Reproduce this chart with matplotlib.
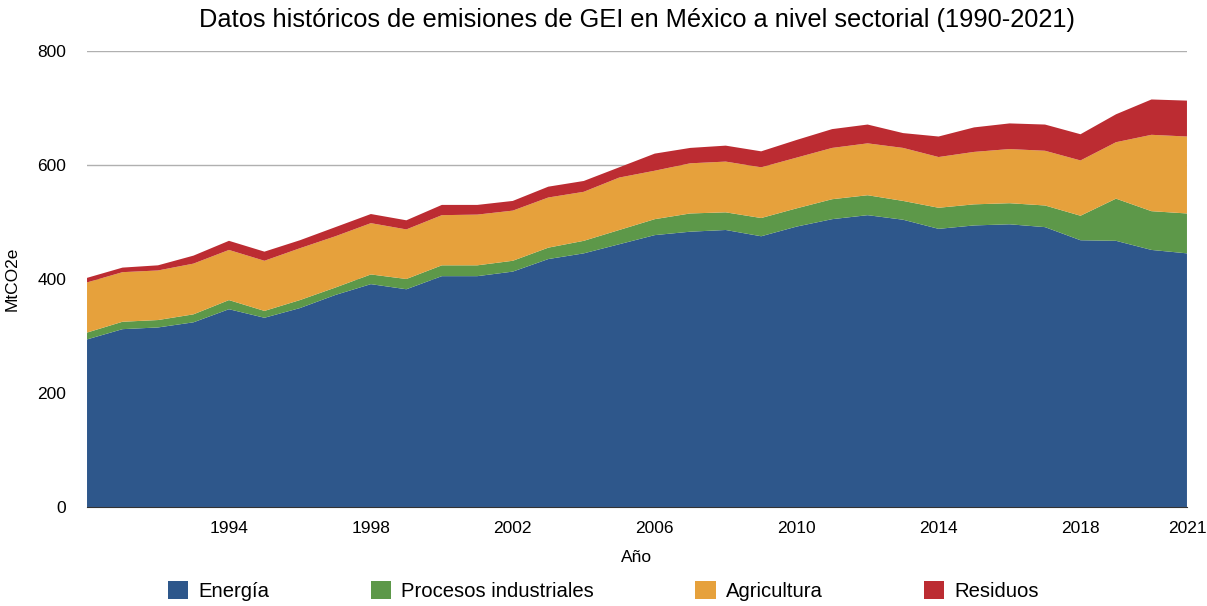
import matplotlib.pyplot as plt
import numpy as np

plt.rcParams['font.family'] = ['Liberation Sans', 'DejaVu Sans']

# Emisiones de GEI por sector, MtCO2e
years = np.arange(1990, 2022)
energia = [294, 312, 315, 324, 347, 332, 349, 372, 391, 382, 405, 405, 413, 435, 445, 461,
           477, 483, 486, 475, 492, 505, 512, 504, 488, 494, 496, 491, 468, 467, 451, 445]
procesos = [12, 13, 13, 14, 16, 12, 14, 13, 17, 18, 19, 19, 19, 20, 22, 25,
            28, 32, 31, 32, 32, 35, 35, 33, 37, 37, 37, 38, 43, 74, 68, 70]
agricultura = [88, 87, 87, 89, 88, 88, 91, 90, 90, 87, 88, 89, 88, 88, 86, 92,
               85, 88, 89, 89, 89, 90, 91, 93, 89, 92, 95, 96, 97, 99, 134, 135]
residuos = [8, 8, 9, 14, 16, 16, 14, 16, 16, 16, 18, 17, 17, 19, 19, 18,
            30, 27, 28, 28, 31, 33, 33, 26, 36, 43, 45, 46, 46, 49, 62, 63]

sectores = ['Energía', 'Procesos industriales', 'Agricultura', 'Residuos']
colores = ['#2e578b', '#5d9849', '#e6a13c', '#bc2c32']
xticks = [1994, 1998, 2002, 2006, 2010, 2014, 2018, 2021]

fig = plt.figure(figsize=(12.07, 6.06), dpi=100)
ax = fig.add_axes([0.0721, 0.1634, 0.9113, 0.7524])

ax.stackplot(years, energia, procesos, agricultura, residuos,
             labels=sectores, colors=colores, linewidth=0, zorder=2)

ax.set_xlim(1990, 2021)
ax.set_ylim(0, 800)
ax.set_yticks([0, 200, 400, 600, 800])
ax.set_xticks(xticks)
ax.grid(axis='y', color='#b0b0b0', linewidth=1, zorder=1)
ax.tick_params(axis='y', length=0, labelsize=12.5, pad=15)
ax.tick_params(axis='x', length=0, labelsize=12.5, pad=10)
for s in ['top', 'right', 'left']:
    ax.spines[s].set_visible(False)
ax.spines['bottom'].set_color('#333333')

ax.set_title('Datos históricos de emisiones de GEI en México a nivel sectorial (1990-2021)',
             fontsize=18.3, pad=17)
ax.set_xlabel('Año', fontsize=12.5, labelpad=10)
ax.set_ylabel('MtCO2e', fontsize=12.5)
ax.yaxis.set_label_coords(-0.061, 0.5)

fig.legend(loc='center', bbox_to_anchor=(0.5, 0.025), ncol=4, frameon=False,
           fontsize=14.6, handlelength=1.0, handleheight=1.0, handletextpad=0.5,
           columnspacing=5.0)

fig.savefig('out.png', dpi=100)
